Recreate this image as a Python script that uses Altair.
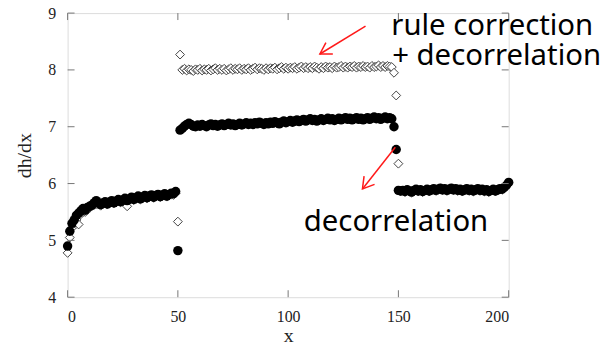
import altair as alt
import pandas as pd

# sample index
x_vals = list(range(0, 201))

# filled circles: decorrelation
circle_y = [
    4.90, 5.16, 5.30, 5.36, 5.44, 5.48, 5.52, 5.56, 5.53, 5.58,
    5.60, 5.62, 5.66, 5.70, 5.66, 5.63, 5.66, 5.68, 5.64, 5.67,
    5.70, 5.66, 5.69, 5.72, 5.68, 5.71, 5.74, 5.70, 5.73, 5.76,
    5.72, 5.75, 5.78, 5.73, 5.76, 5.79, 5.75, 5.78, 5.80, 5.76,
    5.79, 5.81, 5.77, 5.80, 5.82, 5.78, 5.81, 5.83, 5.82, 5.86,
    4.82, 6.94, 6.97, 7.01, 7.04, 7.06, 7.04, 7.01, 7.00, 7.03,
    7.01, 7.04, 7.02, 7.00, 7.03, 7.05, 7.02, 7.04, 7.01, 7.03,
    7.05, 7.02, 7.04, 7.06, 7.03, 7.05, 7.02, 7.04, 7.06, 7.03,
    7.05, 7.07, 7.04, 7.06, 7.04, 7.07, 7.05, 7.08, 7.06, 7.04,
    7.07, 7.05, 7.08, 7.06, 7.09, 7.07, 7.05, 7.08, 7.10, 7.07,
    7.09, 7.11, 7.08, 7.10, 7.12, 7.09, 7.11, 7.13, 7.10, 7.12,
    7.14, 7.11, 7.13, 7.10, 7.12, 7.14, 7.11, 7.13, 7.15, 7.12,
    7.14, 7.11, 7.13, 7.15, 7.12, 7.14, 7.16, 7.13, 7.15, 7.12,
    7.14, 7.16, 7.13, 7.15, 7.12, 7.14, 7.16, 7.13, 7.15, 7.17,
    7.14, 7.16, 7.13, 7.15, 7.17, 7.14, 7.16, 7.14, 7.00, 6.60,
    5.88, 5.87, 5.88, 5.86, 5.89, 5.87, 5.85, 5.88, 5.90, 5.87,
    5.89, 5.86, 5.88, 5.90, 5.87, 5.89, 5.91, 5.88, 5.90, 5.92,
    5.89, 5.91, 5.88, 5.90, 5.92, 5.89, 5.91, 5.88, 5.90, 5.87,
    5.89, 5.91, 5.88, 5.90, 5.87, 5.89, 5.91, 5.88, 5.90, 5.87,
    5.89, 5.86, 5.88, 5.90, 5.87, 5.89, 5.91, 5.90, 5.93, 5.97,
    6.02,
]

# open diamonds: rule correction + decorrelation
diamond_y = [
    4.78, 5.05, 5.22, 5.30, 5.36, 5.28, 5.46, 5.50, 5.50, 5.54,
    5.57, 5.60, 5.62, 5.64, 5.63, 5.61, 5.64, 5.65, 5.63, 5.65,
    5.67, 5.65, 5.67, 5.69, 5.67, 5.69, 5.71, 5.60, 5.71, 5.73,
    5.71, 5.73, 5.75, 5.72, 5.74, 5.76, 5.74, 5.76, 5.78, 5.75,
    5.77, 5.79, 5.76, 5.78, 5.80, 5.77, 5.79, 5.81, 5.80, 5.83,
    5.33, 8.27, 8.00, 8.02, 7.99, 8.01, 8.00, 7.98, 8.01, 8.00,
    8.02, 7.99, 8.01, 8.00, 8.02, 7.99, 8.01, 8.03, 8.00, 8.02,
    8.00, 8.02, 7.99, 8.01, 8.03, 8.00, 8.02, 8.01, 8.03, 8.00,
    8.02, 8.01, 8.03, 8.00, 8.02, 8.04, 8.01, 8.03, 8.02, 8.00,
    8.03, 8.01, 8.03, 8.02, 8.04, 8.01, 8.03, 8.05, 8.02, 8.04,
    8.02, 8.04, 8.03, 8.05, 8.02, 8.04, 8.06, 8.03, 8.05, 8.03,
    8.05, 8.03, 8.06, 8.04, 8.02, 8.05, 8.03, 8.06, 8.04, 8.05,
    8.03, 8.06, 8.04, 8.05, 8.07, 8.04, 8.06, 8.04, 8.06, 8.05,
    8.07, 8.04, 8.06, 8.05, 8.07, 8.05, 8.06, 8.04, 8.07, 8.05,
    8.06, 8.08, 8.05, 8.07, 8.05, 8.07, 8.06, 8.05, 7.95, 7.55,
    6.35, 5.86, 5.87, 5.85, 5.88, 5.86, 5.84, 5.87, 5.89, 5.86,
    5.88, 5.85, 5.87, 5.89, 5.86, 5.88, 5.90, 5.87, 5.89, 5.91,
    5.88, 5.90, 5.87, 5.89, 5.91, 5.88, 5.90, 5.87, 5.89, 5.86,
    5.88, 5.90, 5.87, 5.89, 5.86, 5.88, 5.90, 5.87, 5.89, 5.86,
    5.88, 5.85, 5.87, 5.89, 5.86, 5.88, 5.90, 5.89, 5.92, 5.96,
    6.01,
]

x_ticks = [0, 50, 100, 150, 200]
y_ticks = [4, 5, 6, 7, 8, 9]

# annotations (data coordinates)
ann_text = ["rule correction", "+ decorrelation", "decorrelation"]
ann_x = [146.8, 147.2, 107.1]
ann_y = [8.62, 8.08, 5.17]

arrow_x = [135.1, 148.6]
arrow_y = [8.77, 6.64]
arrow_x2 = [114.4, 133.7]
arrow_y2 = [8.28, 5.905]
arrow_angle = [148.7, 128.2]

W, H = 444, 286
FONT = "Liberation Serif"
ANN_FONT = "Noto Sans"

df = pd.DataFrame({"x": x_vals, "c": circle_y, "d": diamond_y})
xt = pd.DataFrame({"t": x_ticks})
yt = pd.DataFrame({"t": y_ticks})
ann = pd.DataFrame({"text": ann_text, "x": ann_x, "y": ann_y})
arr = pd.DataFrame({"x": arrow_x, "y": arrow_y, "x2": arrow_x2, "y2": arrow_y2, "a": arrow_angle})

xscale = alt.Scale(domain=[0, 200], nice=False, zero=False)
yscale = alt.Scale(domain=[4, 9], nice=False, zero=False)

xaxis = alt.Axis(values=x_ticks, ticks=False, domain=False, grid=False, labelPadding=11,
                 format="d",
                 labelFont=FONT, labelFontSize=16, labelColor="#222",
                 titleFont=FONT, titleFontSize=20, titleFontWeight="normal", titleColor="#222",
                 titlePadding=2)
yaxis = alt.Axis(values=y_ticks, ticks=False, domain=False, grid=False, labelPadding=12,
                 format="d",
                 labelFont=FONT, labelFontSize=16, labelColor="#222",
                 titleFont=FONT, titleFontSize=20, titleFontWeight="normal", titleColor="#222",
                 titlePadding=13)

diamonds = alt.Chart(df).mark_point(shape="diamond", filled=False, fill="white", fillOpacity=1,
                                     stroke="#444", strokeWidth=1, size=80, opacity=1).encode(
    x=alt.X("x:Q", scale=xscale, axis=xaxis, title="x"),
    y=alt.Y("d:Q", scale=yscale, axis=yaxis, title="dh/dx"),
)
circles = alt.Chart(df).mark_circle(color="black", size=90, opacity=1).encode(
    x=alt.X("x:Q", scale=xscale),
    y=alt.Y("c:Q", scale=yscale),
)

tick_style = dict(color="#777", strokeWidth=1)
xt_bottom = alt.Chart(xt).mark_rule(**tick_style).encode(
    x=alt.X("t:Q", scale=xscale), y=alt.value(H), y2=alt.value(H - 7))
xt_top = alt.Chart(xt).mark_rule(**tick_style).encode(
    x=alt.X("t:Q", scale=xscale), y=alt.value(0), y2=alt.value(7))
yt_left = alt.Chart(yt).mark_rule(**tick_style).encode(
    y=alt.Y("t:Q", scale=yscale), x=alt.value(0), x2=alt.value(7))
yt_right = alt.Chart(yt).mark_rule(**tick_style).encode(
    y=alt.Y("t:Q", scale=yscale), x=alt.value(W), x2=alt.value(W - 7))

arrow_lines = alt.Chart(arr).mark_rule(color="#ff1a1a", strokeWidth=1.5).encode(
    x=alt.X("x:Q", scale=xscale), y=alt.Y("y:Q", scale=yscale),
    x2="x2:Q", y2="y2:Q")
arrow_heads = alt.Chart(arr).mark_point(shape="M-1,-0.6L0,0L-1,0.6", filled=False, stroke="#ff1a1a",
                                        strokeWidth=1.5, size=500, opacity=1).encode(
    x=alt.X("x2:Q", scale=xscale), y=alt.Y("y2:Q", scale=yscale), angle=alt.Angle("a:Q", scale=None))

texts = alt.Chart(ann).mark_text(align="left", baseline="alphabetic", font=ANN_FONT, fontSize=29.5,
                                 color="black").encode(
    x=alt.X("x:Q", scale=xscale), y=alt.Y("y:Q", scale=yscale), text="text:N")

chart = alt.layer(diamonds, circles, xt_bottom, xt_top, yt_left, yt_right,
                  arrow_lines, arrow_heads, texts).properties(
    width=W, height=H,
    autosize=alt.AutoSizeParams(type="none"),
    padding={"left": 60, "top": 4, "right": 100, "bottom": 47},
).configure_view(stroke="#808080", strokeWidth=1.5).configure(background="white")

chart.save("out.html", embed_options={"renderer": "svg", "actions": False})
